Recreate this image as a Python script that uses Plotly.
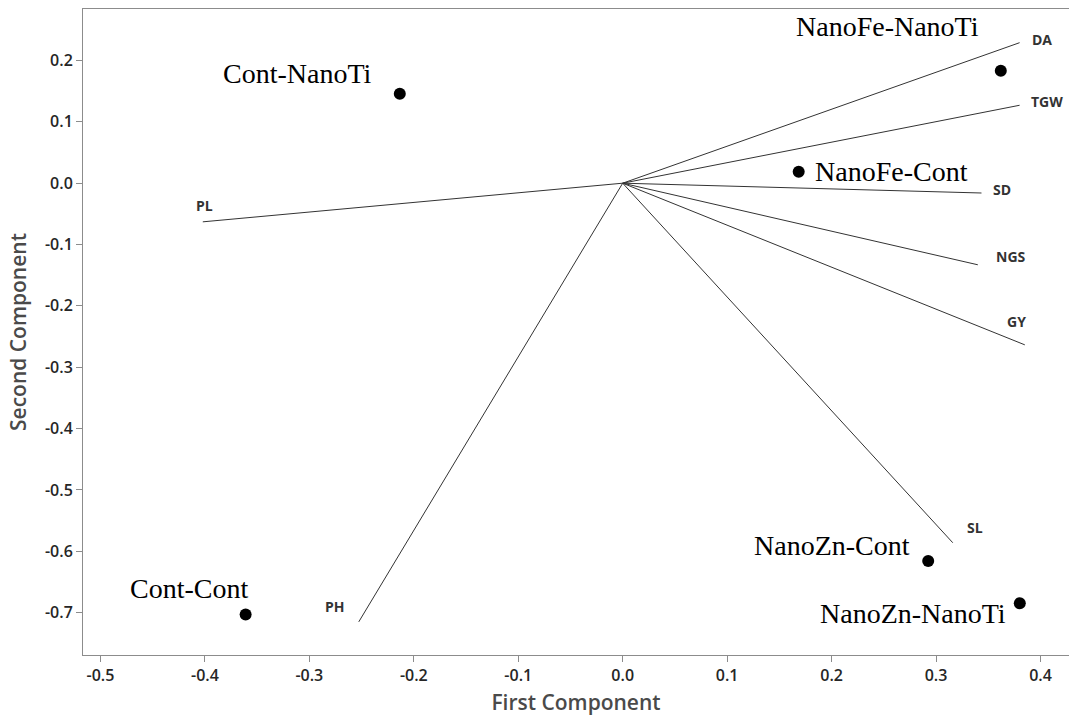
import plotly.graph_objects as go

# Variable loadings (biplot vectors)
var_names = ["DA", "TGW", "SD", "NGS", "GY", "SL", "PH", "PL"]
var_x = [0.380, 0.380, 0.3435, 0.340, 0.385, 0.316, -0.2527, -0.402]
var_y = [0.229, 0.127, -0.016, -0.133, -0.2635, -0.586, -0.715, -0.063]

# Treatment scores
trt_names = ["Cont-NanoTi", "NanoFe-NanoTi", "NanoFe-Cont", "NanoZn-Cont", "NanoZn-NanoTi", "Cont-Cont"]
trt_x = [-0.2134, 0.362, 0.1685, 0.2925, 0.3802, -0.361]
trt_y = [0.1458, 0.1833, 0.0186, -0.6157, -0.6847, -0.703]

x_ticks = [-0.5, -0.4, -0.3, -0.2, -0.1, 0.0, 0.1, 0.2, 0.3, 0.4]
y_ticks = [0.2, 0.1, 0.0, -0.1, -0.2, -0.3, -0.4, -0.5, -0.6, -0.7]

# label offsets in pixels (styling)
var_shift = {"DA": (22, 3), "TGW": (27, 4), "SD": (21, 4), "NGS": (33, 8),
             "GY": (-8, 23), "SL": (22, 15), "PH": (-24, 15), "PL": (2, 16)}
trt_shift = {"Cont-NanoTi": (-102, 20), "NanoFe-NanoTi": (-113, 44), "NanoFe-Cont": (93, 0),
             "NanoZn-Cont": (-96, 15), "NanoZn-NanoTi": (-107, -10), "Cont-Cont": (-57, 26)}

lx, ly = [], []
for vx, vy in zip(var_x, var_y):
    lx += [0, vx, None]
    ly += [0, vy, None]

fig = go.Figure()
fig.add_trace(go.Scatter(x=lx, y=ly, mode="lines",
                         line=dict(color="#333333", width=1), hoverinfo="skip", showlegend=False))
fig.add_trace(go.Scatter(x=trt_x, y=trt_y, mode="markers",
                         marker=dict(color="black", size=12), showlegend=False))

for n, vx, vy in zip(var_names, var_x, var_y):
    dx, dy = var_shift[n]
    fig.add_annotation(x=vx, y=vy, text="<b>%s</b>" % n, showarrow=False,
                       xshift=dx, yshift=dy, xanchor="center", yanchor="middle",
                       font=dict(family="Open Sans", size=14, color="#333333"))

for n, tx, ty in zip(trt_names, trt_x, trt_y):
    dx, dy = trt_shift[n]
    fig.add_annotation(x=tx, y=ty, text=n, showarrow=False,
                       xshift=dx, yshift=dy, xanchor="center", yanchor="middle",
                       font=dict(family="Liberation Serif", size=28, color="black"))

axis_common = dict(showgrid=False, zeroline=False, showline=True, linecolor="#8c8c8c",
                   linewidth=1, ticks="outside", ticklen=6, tickcolor="#8c8c8c", tickwidth=1,
                   tickfont=dict(family="Open Sans", size=16, color="#262626", weight=600))

fig.update_layout(
    width=1069, height=716,
    margin=dict(l=83, r=0, t=9, b=61),
    paper_bgcolor="white", plot_bgcolor="white",
    xaxis=dict(range=[-0.5167, 0.4273], tickvals=x_ticks,
               ticktext=["%.1f" % v for v in x_ticks], mirror=True,
               title=dict(text="First Component", standoff=10,
                          font=dict(family="Open Sans", size=21, color="#4a4a4a", weight=600)),
               automargin=False, **axis_common),
    yaxis=dict(range=[-0.769, 0.2839], tickvals=y_ticks,
               ticktext=["%.1f" % v for v in y_ticks], mirror=False,
               title=dict(text="Second Component", standoff=12,
                          font=dict(family="Open Sans", size=21, color="#4a4a4a", weight=600)),
               automargin=False, **axis_common),
)

fig.write_html("out.html", config={"displayModeBar": False},
               post_script="document.body.style.margin='0';document.body.style.overflow='hidden';")
